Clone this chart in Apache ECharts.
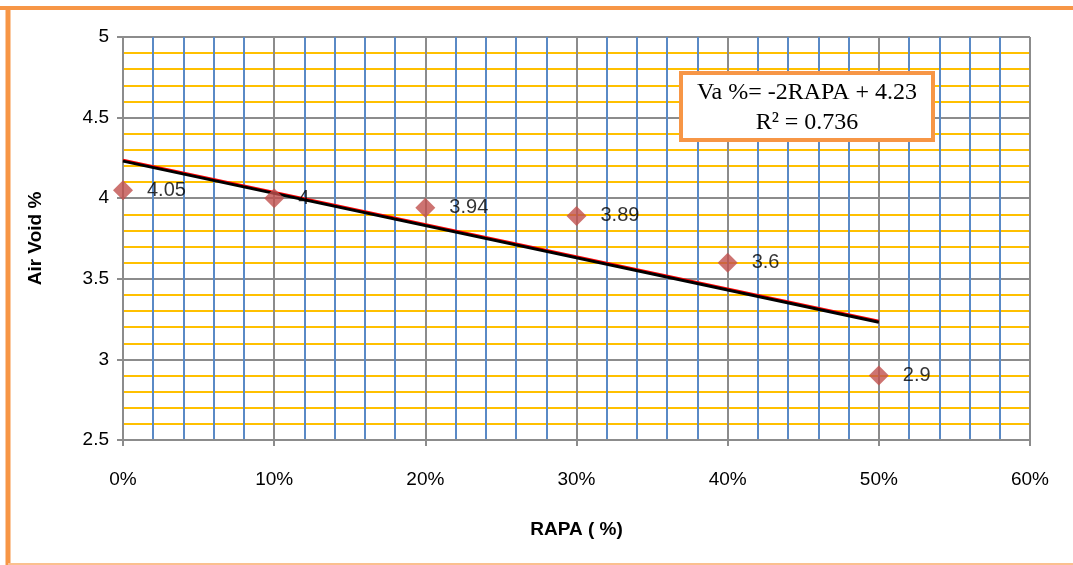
<!DOCTYPE html>
<html>
<head>
<meta charset="utf-8">
<script src="https://cdn.jsdelivr.net/npm/echarts@6/dist/echarts.min.js"></script>
<style>
  html, body { margin: 0; padding: 0; background: #fff; }
  #chart { width: 1073px; height: 565px; }
</style>
</head>
<body>
<div id="chart"></div>
<script>
var rapa = [0, 0.1, 0.2, 0.3, 0.4, 0.5];
var airVoid = [4.05, 4, 3.94, 3.89, 3.6, 2.9];
// linear trend from the fitted equation Va = -2 RAPA + 4.23
var trendX = [0, 0.5];
var trendY = [4.23, 3.23];
var equation = ['Va %= -2RAPA + 4.23', 'R² = 0.736'];

var points = rapa.map(function (x, i) { return [x, airVoid[i]]; });
var trend = trendX.map(function (x, i) { return [x, trendY[i]]; });

var font = 'Liberation Sans';

function frameLine(x1, y1, x2, y2, w, c) {
    return {
        type: 'line', silent: true, z: 100,
        shape: { x1: x1, y1: y1, x2: x2, y2: y2 },
        style: { stroke: c, lineWidth: w }
    };
}

var opts = {
    animation: false,
    grid: { left: 123, right: 43, top: 37, bottom: 125 },
    xAxis: {
        type: 'value',
        min: 0, max: 0.6, interval: 0.1,
        name: 'RAPA ( %)',
        nameLocation: 'middle',
        nameGap: 80,
        nameTextStyle: { fontFamily: font, fontWeight: 'bold', fontSize: 19, color: '#000' },
        axisLine: { show: true, lineStyle: { color: '#8c8c8c', width: 2 } },
        axisTick: { show: true, length: 6, lineStyle: { color: '#8c8c8c', width: 2 } },
        axisLabel: {
            margin: 30, fontFamily: font, fontSize: 19, color: '#000',
            formatter: function (v) { return Math.round(v * 100) + '%'; }
        },
        splitLine: { show: true, lineStyle: { color: '#8c8c8c', width: 2 } },
        minorTick: { show: false, splitNumber: 5 },
        minorSplitLine: { show: true, lineStyle: { color: '#5a8ac6', width: 2 } }
    },
    yAxis: {
        type: 'value',
        min: 2.5, max: 5, interval: 0.5,
        name: 'Air Void %',
        nameLocation: 'middle',
        nameGap: 78,
        nameTextStyle: { fontFamily: font, fontWeight: 'bold', fontSize: 19, color: '#000' },
        axisLine: { show: true, lineStyle: { color: '#8c8c8c', width: 2 } },
        axisTick: { show: true, length: 6, lineStyle: { color: '#8c8c8c', width: 2 } },
        axisLabel: { margin: 14, fontFamily: font, fontSize: 19, color: '#000' },
        splitLine: { show: true, lineStyle: { color: '#8c8c8c', width: 2 } },
        minorTick: { show: false, splitNumber: 5 },
        minorSplitLine: { show: true, lineStyle: { color: '#ffc000', width: 2 } }
    },
    graphic: [
        frameLine(0, 8, 1073, 8, 4, '#f79646'),
        frameLine(8, 6, 8, 565, 5, '#f79646'),
        frameLine(8, 564, 1073, 564, 2, '#fbc08f'),
        {
            type: 'rect', z: 100,
            shape: { x: 681, y: 73, width: 252, height: 67 },
            style: { fill: '#fff', stroke: '#f79646', lineWidth: 4 }
        },
        {
            type: 'text', z: 101, x: 807, y: 108,
            style: {
                text: equation.join('\n'),
                align: 'center', verticalAlign: 'middle',
                font: '24px "Liberation Serif", serif',
                lineHeight: 30, fill: '#000'
            }
        }
    ],
    series: [
        {
            type: 'line',
            data: trend,
            symbol: 'none',
            lineStyle: { color: '#000', width: 3, shadowColor: '#ff0000', shadowOffsetY: -1, shadowBlur: 0 },
            z: 3
        },
        {
            type: 'scatter',
            data: points,
            symbol: 'diamond',
            symbolSize: 20,
            itemStyle: { color: '#c0504d' },
            label: {
                show: true, position: 'right', distance: 14,
                fontFamily: font, fontSize: 20, color: '#000',
                formatter: function (p) { return p.value[1]; }
            },
            z: 4
        }
    ]
};

echarts.init(document.getElementById('chart')).setOption(opts);
</script>
</body>
</html>
